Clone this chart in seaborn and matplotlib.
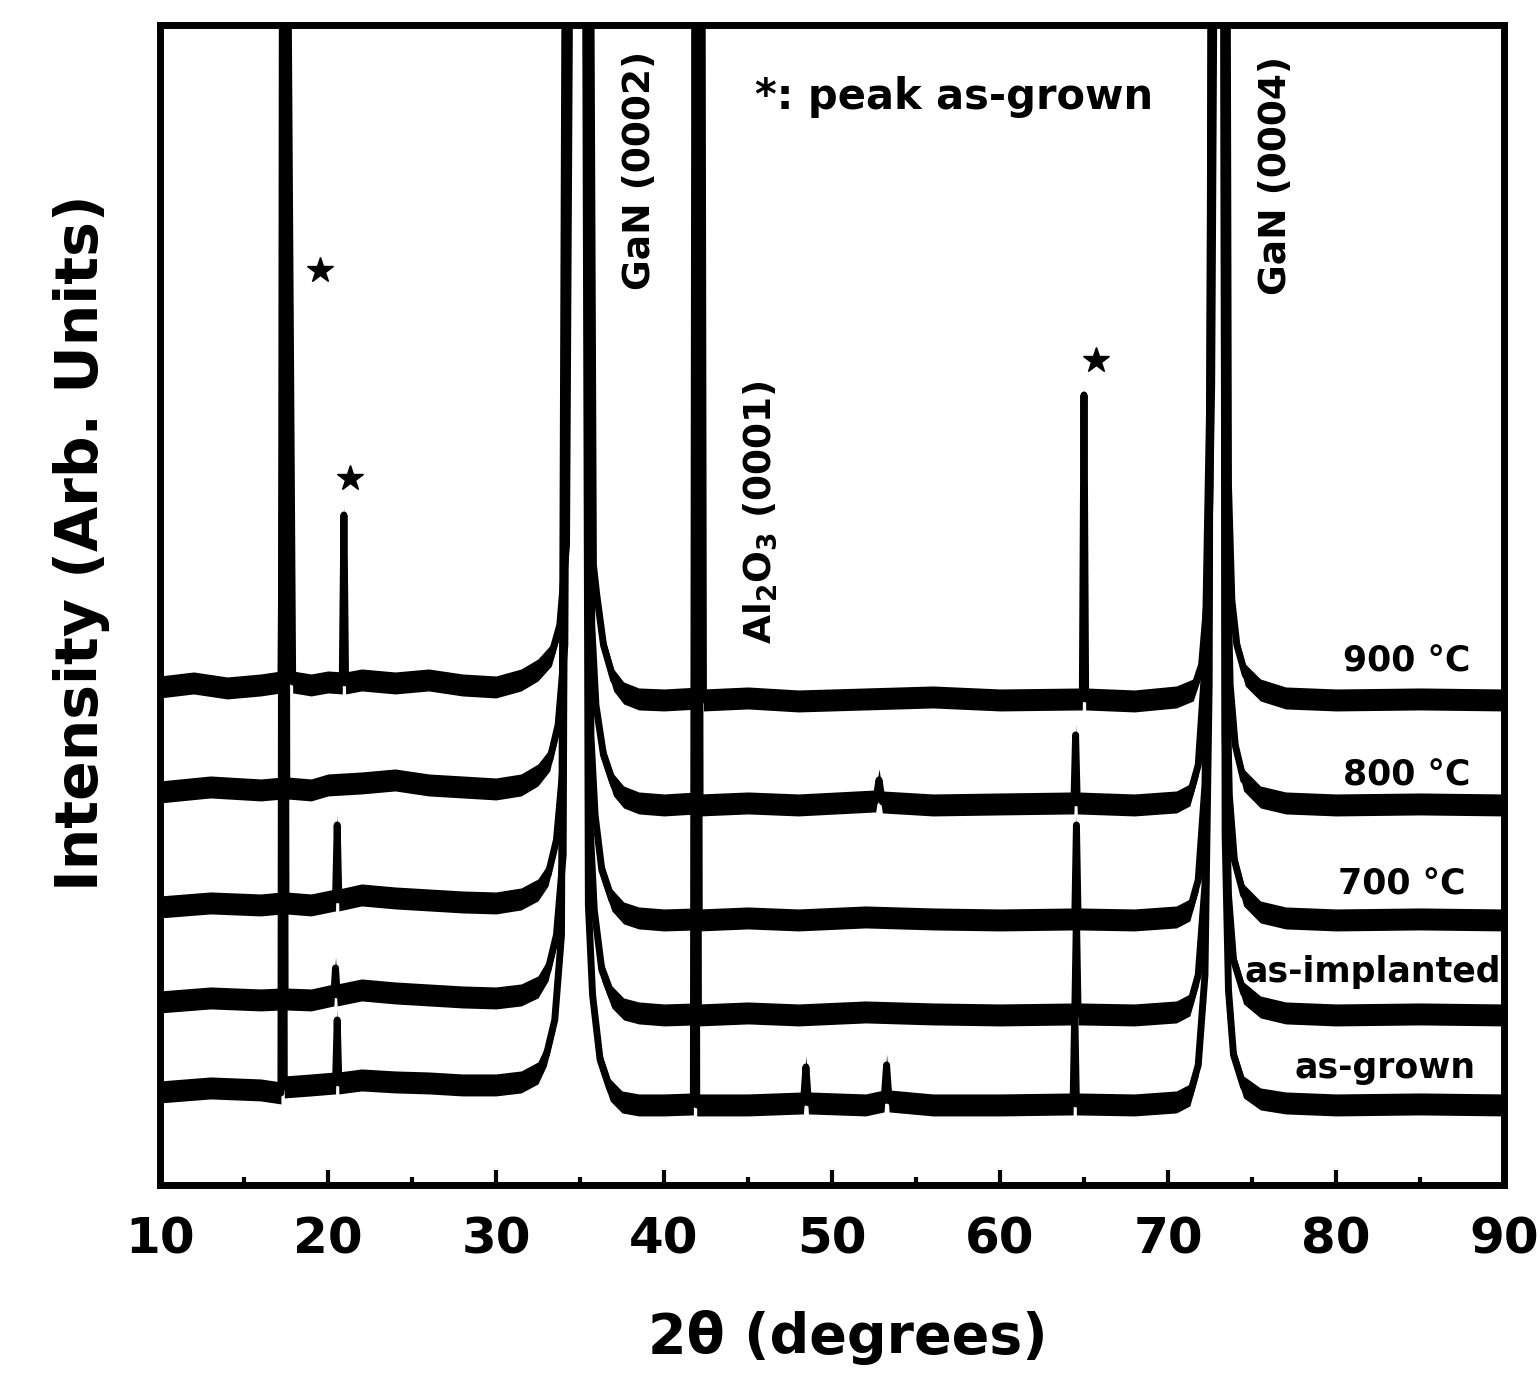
import matplotlib
matplotlib.use("Agg")
import matplotlib.pyplot as plt
import seaborn as sns
import pandas as pd
from matplotlib.ticker import MultipleLocator

# ---------------- data ----------------
# intensity in arbitrary units (stacked traces); values above 1160 run off the top
x_900 = [10, 12, 14, 16, 17.2, 17.55, 17.9, 19, 20, 20.85, 20.95, 21.05, 22, 24, 26, 28, 30, 31.5, 32.5,
         33.3, 33.8, 34.2, 34.45, 35.6, 35.8, 36.0, 36.4, 37.0, 37.6, 38.5, 40, 42.15, 42.25, 42.35, 45, 48,
         52, 56, 60, 64.9, 65.0, 65.1, 68, 70.5, 71.5, 72.0, 72.4, 72.6, 72.8, 73.5, 73.6, 73.8, 74.1,
         74.6, 75.5, 77, 80, 85, 90]
y_900 = [498, 502, 497, 500, 503, 1400, 503, 500, 503, 502, 670, 502, 505, 502, 505, 500, 498, 505, 515,
         530, 560, 640, 1400, 1400, 620, 590, 540, 505, 492, 486, 485, 487, 1400, 485, 487, 484,
         486, 488, 485, 486, 790, 486, 484, 488, 495, 520, 600, 800, 1400, 1400, 700, 585, 540,
         510, 495, 487, 485, 486, 485]

x_800 = [10, 13, 16, 17.35, 17.45, 17.55, 19, 20, 22, 24, 26, 28, 30, 31.5, 32.5, 33.2, 33.7, 34.1,
         34.35, 35.5, 35.7, 35.95, 36.4, 37.0, 37.6, 38.5, 40, 41.95, 42.05, 42.15, 45, 48, 52.6, 52.8,
         53.0, 56, 60, 64.4, 64.5, 64.6, 68, 70.5, 71.3, 71.8, 72.2, 72.5, 72.7, 73.4, 73.5, 73.7, 74.0,
         74.5, 75.5, 77, 80, 85, 90]
y_800 = [393, 398, 395, 397, 1400, 397, 395, 400, 402, 405, 400, 398, 396, 400, 410, 425, 460, 540,
         1400, 1400, 560, 480, 430, 400, 388, 382, 380, 382, 1400, 380, 382, 380, 384, 405,
         383, 380, 381, 382, 450, 382, 380, 383, 390, 420, 520, 800, 1400, 1400, 650, 500, 440,
         405, 388, 382, 380, 381, 380]

x_700 = [10, 13, 16, 17.3, 17.4, 17.5, 19, 20.45, 20.55, 20.65, 22, 24, 26, 28, 30, 31.5, 32.5, 33.1,
         33.6, 34.0, 34.3, 35.45, 35.65, 35.9, 36.3, 36.9, 37.6, 38.5, 40, 41.9, 42.0, 42.1, 45, 48, 52,
         56, 60, 64.45, 64.55, 64.65, 68, 70.5, 71.3, 71.8, 72.2, 72.5, 72.65, 73.35, 73.45, 73.65, 73.95,
         74.5, 75.5, 77, 80, 85, 90]
y_700 = [278, 282, 280, 282, 1400, 282, 280, 285, 360, 285, 290, 287, 285, 283, 282, 286, 295, 310,
         345, 420, 1400, 1400, 450, 370, 315, 285, 272, 267, 265, 266, 1400, 265, 267, 265, 268,
         266, 265, 266, 360, 266, 265, 268, 275, 305, 400, 700, 1400, 1400, 550, 390, 325,
         290, 273, 267, 265, 266, 265]

x_imp = [10, 13, 16, 17.25, 17.35, 17.45, 19, 20.35, 20.45, 20.55, 22, 24, 26, 28, 30, 31.5, 32.5, 33.1,
         33.6, 34.0, 34.25, 35.4, 35.6, 35.85, 36.3, 36.9, 37.6, 38.5, 40, 41.85, 41.95, 42.05, 45, 48, 52,
         56, 60, 64.45, 64.55, 64.65, 68, 70.5, 71.3, 71.8, 72.2, 72.45, 72.6, 73.3, 73.4, 73.6, 73.9,
         74.5, 75.5, 77, 80, 85, 90]
y_imp = [183, 187, 185, 186, 1400, 186, 185, 190, 217, 190, 195, 192, 190, 188, 187, 190, 198, 215,
         250, 330, 1400, 1400, 360, 275, 215, 188, 176, 172, 170, 171, 1400, 170, 172, 170, 173,
         171, 170, 171, 270, 171, 170, 173, 180, 210, 300, 600, 1400, 1400, 450, 290, 225,
         192, 178, 172, 170, 171, 170]

x_grown = [10, 13, 16, 17.2, 17.3, 17.4, 19, 20.45, 20.55, 20.65, 22, 24, 26, 28, 30, 31.5, 32.5, 33.0,
           33.5, 33.9, 34.15, 35.3, 35.5, 35.75, 36.2, 36.8, 37.5, 38.5, 40, 41.75, 41.85, 41.95, 45,
           48.3, 48.45, 48.6, 52, 53.1, 53.25, 53.4, 56, 60, 64.35, 64.45, 64.55, 68, 70.5, 71.3, 71.8,
           72.2, 72.45, 72.6, 73.3, 73.4, 73.6, 73.9, 74.5, 75.5, 77, 80, 85, 90]
y_grown = [93, 97, 95, 92, 1400, 98, 100, 102, 165, 102, 105, 103, 102, 100, 100, 103, 112, 130,
           165, 250, 1400, 1400, 280, 190, 125, 95, 83, 80, 80, 81, 1400, 80, 80,
           82, 118, 82, 80, 84, 120, 84, 80, 80, 81, 175, 81, 80, 83, 90, 120,
           210, 500, 1400, 1400, 350, 195, 130, 98, 86, 82, 80, 81, 80]

samples = ["900 °C", "800 °C", "700 °C", "as-implanted", "as-grown"]
xs = [x_900, x_800, x_700, x_imp, x_grown]
ys = [y_900, y_800, y_700, y_imp, y_grown]

label_x = [88.0, 88.0, 87.7, 89.8, 88.3]
label_y = [523, 409, 300, 213, 117]

star_x = [19.5, 21.3, 65.7]
star_y = [915, 707, 825]

peak_labels = ["GaN (0002)", r"Al$_\mathbf{2}$O$_\mathbf{3}$ (0001)", "GaN (0004)"]
peak_label_x = [38.6, 45.7, 76.4]
peak_label_y = [1015, 673, 1010]

# ---------------- figure ----------------
sns.set_theme(style="white")
plt.rcParams["font.family"] = ["DejaVu Sans"]
plt.rcParams["font.weight"] = "bold"
plt.rcParams["mathtext.fontset"] = "dejavusans"
plt.rcParams["text.color"] = "black"
plt.rcParams["axes.labelcolor"] = "black"
plt.rcParams["xtick.color"] = "black"

fig = plt.figure(figsize=(15.38, 13.88), dpi=100)
ax = fig.add_axes([0.104, 0.1463, 0.8739, 0.8357])

rows = []
for name, xx, yy in zip(samples, xs, ys):
    for i, (a, b) in enumerate(zip(xx, yy)):
        rows.append({"x": a, "y": b, "sample": name, "i": i})
df = pd.DataFrame(rows)

sns.lineplot(data=df, x="x", y="y", units="sample", estimator=None, sort=False,
             color="black", linewidth=5, ax=ax, legend=False)
for name, xx, yy in zip(samples, xs, ys):
    ax.fill_between(xx, [v - 11 for v in yy], [v + 11 for v in yy], color="black", lw=0)

ax.plot(star_x, star_y, linestyle="none", marker="*", markersize=19, color="black")

for name, lx, ly in zip(samples, label_x, label_y):
    ax.text(lx, ly, name, ha="right", va="center", fontsize=25, fontweight="bold", color="black")

for t, px, py in zip(peak_labels, peak_label_x, peak_label_y):
    ax.text(px, py, t, rotation=90, ha="center", va="center", fontsize=27, fontweight="bold",
            color="black")

ax.text(45.4, 1088, "*: peak as-grown", ha="left", va="center", fontsize=30, fontweight="bold",
        color="black")

ax.set_xlim(10, 90)
ax.set_ylim(0, 1160)
ax.xaxis.set_major_locator(MultipleLocator(10))
ax.xaxis.set_minor_locator(MultipleLocator(5))
ax.set_yticks([])
ax.tick_params(axis="x", which="major", direction="in", length=11, width=3, bottom=True, top=False,
               labelsize=36, pad=22, color="black", labelcolor="black")
ax.tick_params(axis="x", which="minor", direction="in", length=6, width=3, bottom=True, top=False,
               color="black")
for lab in ax.get_xticklabels():
    lab.set_fontweight("bold")

for s in ax.spines.values():
    s.set_visible(True)
    s.set_color("black")
    s.set_linewidth(5)

ax.set_xlabel("2θ (degrees)", fontsize=40, fontweight="bold", color="black")
ax.set_ylabel("Intensity (Arb. Units)", fontsize=42, fontweight="bold", color="black")
ax.xaxis.set_label_coords(0.512, -0.108)
ax.yaxis.set_label_coords(-0.037, 0.554)

fig.savefig("out.png", dpi=100, facecolor="white")
